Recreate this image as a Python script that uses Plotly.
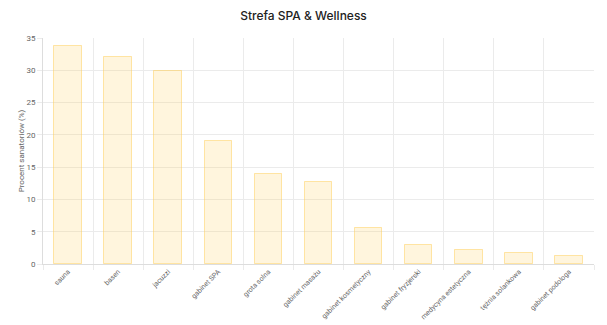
import plotly.graph_objects as go

categories = ["sauna", "basen", "jacuzzi", "gabinet SPA", "grota solna", "gabinet masażu",
              "gabinet kosmetyczny", "gabinet fryzjerski", "medycyna estetyczna",
              "tężnia solankowa", "gabinet podologa"]
values = [33.8, 32.1, 29.9, 19.1, 14.0, 12.7, 5.6, 2.9, 2.1, 1.7, 1.2]
y_ticks = [0, 5, 10, 15, 20, 25, 30, 35]

fig = go.Figure(go.Bar(
    x=categories, y=values, width=0.55,
    marker=dict(color="rgba(255,206,86,0.2)",
                line=dict(color="rgba(255,206,86,0.5)", width=1)),
))

fig.update_layout(
    width=607, height=325,
    margin=dict(l=43, r=13, t=38, b=61),
    paper_bgcolor="white", plot_bgcolor="white",
    font=dict(family="Roboto, Arial, sans-serif", color="#666", size=8),
    title=dict(text="Strefa SPA & Wellness", x=0.5, xanchor="center", y=0.95, yanchor="middle",
               font=dict(size=12, color="#222", family="Inter, Roboto, sans-serif", weight=500)),
    showlegend=False,
    bargap=0,
)
fig.update_xaxes(
    tickson="boundaries", tickangle=-45, showgrid=True, gridcolor="#ebebeb",
    ticks="outside", ticklen=5, tickcolor="#ebebeb", automargin=False,
    showline=True, linecolor="#ddd", tickfont=dict(size=7, color="#666"),
)
fig.update_yaxes(
    range=[0, 35], tickvals=y_ticks, showgrid=True, gridcolor="#ebebeb",
    ticks="outside", ticklen=5, tickcolor="#ebebeb", automargin=False,
    showline=True, linecolor="#ddd", zeroline=False,
    tickfont=dict(size=8, color="#666"),
    title=dict(text="Procent sanatoriów (%)", font=dict(size=8, color="#666"), standoff=0),
)

fig.write_html("out.html")
